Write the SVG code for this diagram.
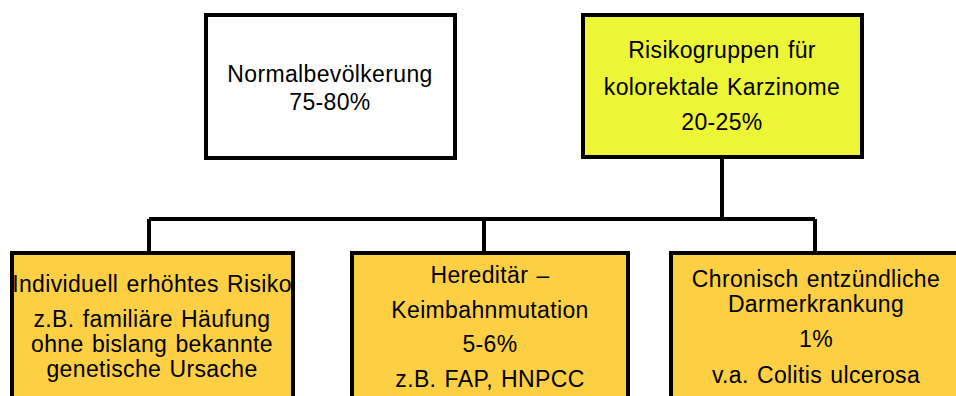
<svg xmlns="http://www.w3.org/2000/svg" width="956" height="396" viewBox="0 0 956 396">
<style>
.box{stroke:#000;stroke-width:4}
.w{fill:#fff}
.y{fill:#EDF636}
.o{fill:#FDD043}
.t{font-family:"Liberation Sans",Arial,sans-serif;font-size:23px;letter-spacing:0.35px;word-spacing:1.5px;fill:#000;text-anchor:middle}
.c{fill:none;stroke:#000;stroke-width:4}
</style>
<rect width="956" height="396" fill="#fff"/>
<g id="connectors">
<path class="c" d="M722 157 V219 M149 219 H815 M149 219 V253 M484 219 V253 M815 219 V253"/>
</g>
<g id="normal">
<rect class="box w" x="206" y="15" width="249" height="143"/>
<text class="t" x="330" y="82">Normalbevölkerung</text>
<text class="t" x="330" y="110">75-80%</text>
</g>
<g id="risiko">
<rect class="box y" x="583" y="15" width="279" height="142"/>
<text class="t" x="722" y="58">Risikogruppen für</text>
<text class="t" x="722" y="95">kolorektale Karzinome</text>
<text class="t" x="722" y="130">20-25%</text>
</g>
<g id="individuell">
<rect class="box o" x="12" y="253" width="281" height="170"/>
<text class="t" x="152" y="292">Individuell erhöhtes Risiko</text>
<text class="t" x="152" y="327">z.B. familiäre Häufung</text>
<text class="t" x="152" y="352">ohne bislang bekannte</text>
<text class="t" x="152" y="377">genetische Ursache</text>
</g>
<g id="hereditaer">
<rect class="box o" x="352" y="253" width="276" height="170"/>
<text class="t" x="490" y="283">Hereditär –</text>
<text class="t" x="490" y="318">Keimbahnmutation</text>
<text class="t" x="490" y="352">5-6%</text>
<text class="t" x="490" y="387">z.B. FAP, HNPCC</text>
</g>
<g id="chronisch">
<rect class="box o" x="671" y="253" width="292" height="170"/>
<text class="t" x="816" y="287">Chronisch entzündliche</text>
<text class="t" x="816" y="312">Darmerkrankung</text>
<text class="t" x="816" y="347">1%</text>
<text class="t" x="816" y="383">v.a. Colitis ulcerosa</text>
</g>
</svg>
